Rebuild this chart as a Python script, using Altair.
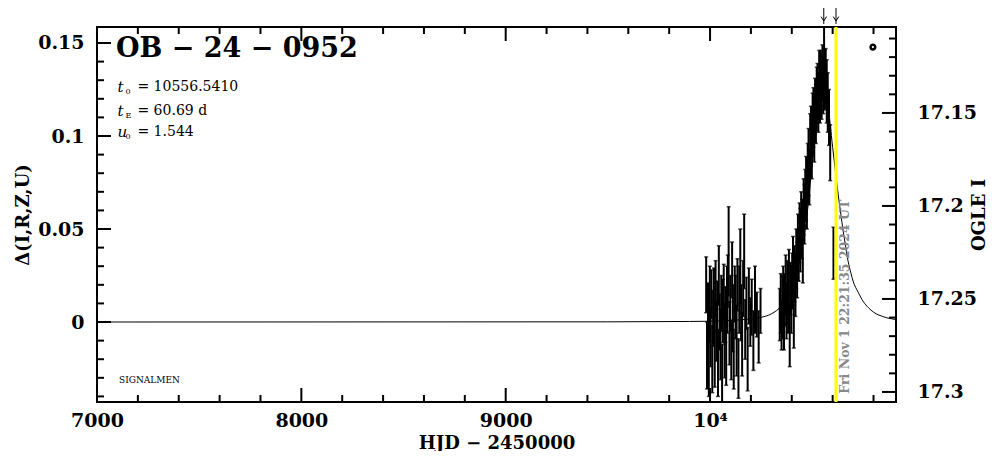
import altair as alt
import pandas as pd

# ---------------- data ----------------
# OGLE season 2023
t1 = [9981, 9985, 9990, 9994, 9999, 10003, 10007, 10011, 10015, 10019,
      10023, 10027, 10031, 10035, 10039, 10043, 10047, 10051, 10055, 10059,
      10063, 10067, 10071, 10075, 10079, 10083, 10087, 10091, 10095, 10099,
      10104, 10108, 10112, 10116, 10121, 10125, 10130, 10134, 10139, 10143,
      10148, 10152, 10157, 10162, 10167, 10172, 10178, 10184, 10190, 10197,
      10204, 10212, 10220, 10229, 10238, 10247]
d1 = [0.020, -0.018, 0.005, -0.025, 0.010, -0.008, 0.015, -0.020, 0.002, 0.012,
      -0.015, 0.018, -0.005, 0.008, -0.022, 0.025, 0.000, -0.012, 0.010, -0.028,
      0.006, 0.016, -0.010, 0.004, -0.018, 0.012, 0.022, 0.038, -0.006, 0.010,
      -0.015, 0.028, 0.002, -0.020, 0.015, 0.008, -0.010, 0.020, -0.025, 0.012,
      0.030, 0.005, -0.012, 0.018, 0.038, -0.004, 0.010, -0.020, 0.014, 0.000,
      0.008, -0.010, 0.012, 0.004, -0.008, 0.006]
e1 = [0.015, 0.018, 0.016, 0.015, 0.020, 0.016, 0.013, 0.018, 0.015, 0.017,
      0.020, 0.015, 0.016, 0.014, 0.018, 0.016, 0.015, 0.019, 0.015, 0.016,
      0.017, 0.015, 0.020, 0.015, 0.016, 0.018, 0.014, 0.024, 0.017, 0.015,
      0.016, 0.015, 0.018, 0.016, 0.015, 0.017, 0.019, 0.014, 0.016, 0.018,
      0.020, 0.015, 0.017, 0.015, 0.020, 0.016, 0.014, 0.017, 0.015, 0.013,
      0.015, 0.016, 0.018, 0.012, 0.014, 0.012]
# OGLE season 2024
t2 = [10341, 10346, 10350, 10354, 10358, 10362, 10366, 10370, 10374, 10378,
      10382, 10386, 10390, 10394, 10398, 10402, 10406, 10410, 10414, 10418,
      10422, 10426, 10430, 10434, 10438, 10442, 10446, 10450, 10454, 10458,
      10462, 10466, 10470, 10474, 10478, 10482, 10486, 10490, 10494, 10498,
      10502, 10506, 10510, 10514, 10518, 10522, 10526, 10530, 10534, 10538,
      10542, 10546, 10550, 10554, 10558, 10562, 10566, 10571, 10576, 10582,
      10588, 10604]
d2 = [0.004, 0.010, -0.002, 0.008, 0.015, 0.003, 0.012, 0.020, 0.006, 0.016,
      0.010, 0.024, -0.007, 0.018, 0.012, 0.022, 0.030, 0.002, 0.026, 0.020,
      0.034, 0.028, 0.040, 0.036, 0.048, 0.044, 0.055, 0.050, 0.043, 0.062,
      0.058, 0.068, 0.072, 0.065, 0.080, 0.086, 0.078, 0.095, 0.100, 0.092,
      0.106, 0.110, 0.104, 0.116, 0.112, 0.120, 0.124, 0.118, 0.128, 0.122,
      0.130, 0.126, 0.134, 0.128, 0.138, 0.130, 0.132, 0.124, 0.118, 0.110,
      0.091, 0.037]
e2 = [0.014, 0.016, 0.013, 0.017, 0.015, 0.018, 0.014, 0.016, 0.015, 0.017,
      0.016, 0.015, 0.017, 0.014, 0.018, 0.015, 0.016, 0.016, 0.015, 0.017,
      0.016, 0.015, 0.018, 0.014, 0.016, 0.017, 0.015, 0.016, 0.022, 0.015,
      0.016, 0.014, 0.017, 0.015, 0.016, 0.018, 0.015, 0.017, 0.016, 0.015,
      0.017, 0.016, 0.018, 0.015, 0.016, 0.017, 0.015, 0.016, 0.018, 0.015,
      0.016, 0.017, 0.015, 0.016, 0.022, 0.016, 0.015, 0.017, 0.016, 0.015,
      0.015, 0.014]
# model curve
model_t = [7000, 9500, 9900, 10050, 10150, 10250, 10300, 10350, 10400, 10425,
           10450, 10475, 10500, 10520, 10540, 10556, 10575, 10600, 10620, 10630,
           10640, 10650, 10660, 10675, 10690, 10700, 10725, 10750, 10775, 10800,
           10850, 10910]
model_d = [0.0, 0.0001, 0.0003, 0.0006, 0.0012, 0.0025, 0.0044, 0.0087, 0.018, 0.027,
           0.040, 0.058, 0.085, 0.104, 0.119, 0.126, 0.118, 0.094, 0.075, 0.066,
           0.058, 0.050, 0.043, 0.033, 0.026, 0.022, 0.016, 0.011, 0.0077, 0.0053,
           0.0028, 0.0013]

# ticks
x_major = [7000, 8000, 9000, 10000]
x_minor = [7200, 7400, 7600, 7800, 8200, 8400, 8600, 8800, 9200, 9400, 9600, 9800,
           10200, 10400, 10600, 10800]
d_major = [0, 0.05, 0.1, 0.15]
d_minor = [-0.04, -0.03, -0.02, -0.01, 0.01, 0.02, 0.03, 0.04, 0.06, 0.07, 0.08, 0.09,
           0.11, 0.12, 0.13, 0.14]
I_major = [17.15, 17.2, 17.25, 17.3]
I_minor = [17.11, 17.12, 17.13, 17.14, 17.16, 17.17, 17.18, 17.19, 17.21, 17.22, 17.23,
           17.24, 17.26, 17.27, 17.28, 17.29]
I_base = 17.2624

# annotations
t0 = 10556.5410
t_now = 10616.43
event_name = "OB − 24 − 0952"
param_sym = ["t", "t", "u"]
param_sub = ["0", "E", "0"]
param_val = ["=  10556.5410", "=  60.69  d", "=  1.544"]
param_d = [0.1265, 0.1135, 0.1022]
now_text = "Fri Nov  1 22:21:35 2024 UT"

# ---------------- geometry / scales ----------------
W, H = 799, 375
X_DOM = [7000, 10910]
D_DOM = [-0.043, 0.1586]
FONT = "DejaVu Serif"

xscale = alt.Scale(domain=X_DOM, nice=False, zero=False)
yscale = alt.Scale(domain=D_DOM, nice=False, zero=False)
xaxis = alt.Axis(values=x_major,
                 labelExpr="datum.value == 10000 ? '10⁴' : format(datum.value, 'd')",
                 title="HJD  −  2450000", ticks=False, domain=False, grid=False,
                 labelFlush=False, labelPadding=9, titlePadding=4, titleFontSize=18)
yaxis = alt.Axis(values=d_major, labelExpr="format(datum.value, '~g')",
                 title="Δ(I,R,Z,U)", ticks=False, domain=False, grid=False,
                 labelFlush=False, labelPadding=13, titlePadding=5, titleFontSize=18)


def X(f):
    return alt.X(f, type="quantitative", scale=xscale, axis=xaxis)


def Y(f):
    return alt.Y(f, type="quantitative", scale=yscale, axis=yaxis)


obs = pd.DataFrame({"t": t1 + t2, "d": d1 + d2, "e": e1 + e2})
obs["lo"] = obs["d"] - obs["e"]
obs["hi"] = obs["d"] + obs["e"]
model = pd.DataFrame({"t": model_t, "d": model_d})

model_line = alt.Chart(model).mark_line(color="black", strokeWidth=1, clip=True,
                                        interpolate="monotone").encode(x=X("t"), y=Y("d"))
bars = alt.Chart(obs).mark_rule(color="black", strokeWidth=2, clip=True).encode(
    x=X("t"), y=Y("lo"), y2="hi")
caps_hi = alt.Chart(obs).mark_tick(color="black", orient="horizontal", size=4,
                                   thickness=1.5, clip=True).encode(x=X("t"), y=Y("hi"))
caps_lo = alt.Chart(obs).mark_tick(color="black", orient="horizontal", size=4,
                                   thickness=1.5, clip=True).encode(x=X("t"), y=Y("lo"))

now_df = pd.DataFrame({"t": [t_now]})
yellow = alt.Chart(now_df).mark_rule(color="#ffff00", strokeWidth=3).encode(
    x=X("t"), y=alt.value(0), y2=alt.value(H))

arrow_df = pd.DataFrame({"t": [t0, t_now]})
arrow_shaft = alt.Chart(arrow_df).mark_rule(color="black", strokeWidth=1).encode(
    x=X("t"), y=alt.value(-19), y2=alt.value(-3))
arrow_head = alt.Chart(arrow_df).mark_point(
    shape="M-1,-1.6L0,0L1,-1.6", filled=False, color="black", strokeWidth=1,
    size=30, opacity=1).encode(x=X("t"), y=alt.value(-6))

# axis ticks (inward)
xmaj = pd.DataFrame({"t": x_major})
xmin = pd.DataFrame({"t": x_minor})
dmaj = pd.DataFrame({"d": d_major})
dmin = pd.DataFrame({"d": d_minor})
tick_layers = [
    alt.Chart(xmaj).mark_rule(color="black", strokeWidth=2).encode(x=X("t"), y=alt.value(H), y2=alt.value(H - 14)),
    alt.Chart(xmin).mark_rule(color="black", strokeWidth=2).encode(x=X("t"), y=alt.value(H), y2=alt.value(H - 7)),
    alt.Chart(xmaj).mark_rule(color="black", strokeWidth=2).encode(x=X("t"), y=alt.value(0), y2=alt.value(14)),
    alt.Chart(xmin).mark_rule(color="black", strokeWidth=2).encode(x=X("t"), y=alt.value(0), y2=alt.value(7)),
    alt.Chart(dmaj).mark_rule(color="black", strokeWidth=2).encode(y=Y("d"), x=alt.value(0), x2=alt.value(14)),
    alt.Chart(dmin).mark_rule(color="black", strokeWidth=2).encode(y=Y("d"), x=alt.value(0), x2=alt.value(7)),
]

# text annotations
title_df = pd.DataFrame({"t": [7093], "d": [0.1425], "txt": [event_name]})
title = alt.Chart(title_df).mark_text(font=FONT, fontWeight="bold", fontSize=27,
                                      align="left", baseline="alphabetic").encode(
    x=X("t"), y=Y("d"), text="txt:N")
pdf = pd.DataFrame({"t": [7100] * 3, "d": param_d, "s": param_sym, "b": param_sub, "v": param_val})
p_sym = alt.Chart(pdf).mark_text(font=FONT, fontStyle="italic", fontSize=15, align="left",
                                 baseline="middle").encode(x=X("t"), y=Y("d"), text="s:N")
p_sub = alt.Chart(pdf).mark_text(font=FONT, fontSize=8, align="left", baseline="middle",
                                 dx=8, dy=5).encode(x=X("t"), y=Y("d"), text="b:N")
p_val = alt.Chart(pdf).mark_text(font=FONT, fontSize=14, align="left", baseline="middle",
                                 dx=20).encode(x=X("t"), y=Y("d"), text="v:N")
sig_df = pd.DataFrame({"t": [7108], "d": [-0.031], "txt": ["SIGNALMEN"]})
sig = alt.Chart(sig_df).mark_text(font=FONT, fontSize=9, align="left", baseline="middle").encode(
    x=X("t"), y=Y("d"), text="txt:N")
nt_df = pd.DataFrame({"t": [10662], "d": [-0.0385], "txt": [now_text]})
nowtxt = alt.Chart(nt_df).mark_text(font=FONT, fontWeight="bold", fontSize=12.5, color="#888888",
                                    angle=270, align="left", baseline="middle").encode(
    x=X("t"), y=Y("d"), text="txt:N")
o_df = pd.DataFrame({"t": [10797], "d": [0.1478]})
omark = alt.Chart(o_df).mark_point(shape="circle", filled=False, color="black", strokeWidth=2.5,
                                   size=22, opacity=1).encode(x=X("t"), y=Y("d"))

inner = alt.layer(model_line, bars, caps_hi, caps_lo, yellow, arrow_shaft, arrow_head,
                  *tick_layers, title, p_sym, p_sub, p_val, sig, nowtxt, omark)

# right axis: OGLE I (reversed)
iscale = alt.Scale(domain=[I_base - D_DOM[1], I_base - D_DOM[0]], reverse=True, nice=False, zero=False)
iaxis = alt.Axis(orient="right", values=I_major, labelExpr="format(datum.value, '~g')",
                 title="OGLE I", titleAngle=270, ticks=False, domain=False, grid=False,
                 labelFlush=False, labelPadding=21, titlePadding=12, titleFontSize=18)
imaj = pd.DataFrame({"I": I_major})
imin = pd.DataFrame({"I": I_minor})
right_major = alt.Chart(imaj).mark_rule(color="black", strokeWidth=2).encode(
    y=alt.Y("I:Q", scale=iscale, axis=iaxis), x=alt.value(W), x2=alt.value(W - 14))
right_minor = alt.Chart(imin).mark_rule(color="black", strokeWidth=2).encode(
    y=alt.Y("I:Q", scale=iscale, axis=iaxis), x=alt.value(W), x2=alt.value(W - 7))
right = alt.layer(right_major, right_minor)

chart = alt.layer(inner, right).resolve_scale(y="independent").properties(
    width=W, height=H, autosize="none", background="white",
    padding={"left": 89, "top": 19, "right": 95, "bottom": 49},
).configure_view(stroke="black", strokeWidth=2).configure_axis(
    labelFont=FONT, labelFontWeight="bold", labelFontSize=19, labelColor="black",
    titleFont=FONT, titleFontWeight="bold", titleFontSize=18, titleColor="black",
)

chart.save("out.html", embed_options={"renderer": "svg", "actions": False})
